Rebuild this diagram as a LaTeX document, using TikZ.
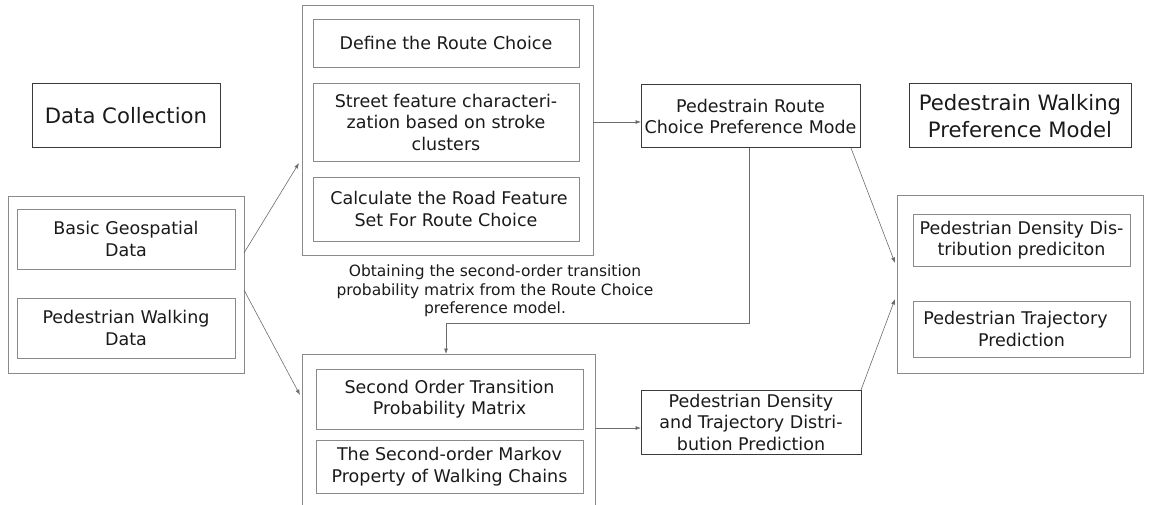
\documentclass[tikz,border=0pt]{standalone}
\usepackage{fontspec}
\setmainfont{DejaVu Sans}
\usetikzlibrary{arrows.meta,calc}
\definecolor{boxgray}{HTML}{8A8A8A}
\definecolor{darkline}{HTML}{3A3A3A}
\definecolor{txt}{HTML}{1A1A1A}
\begin{document}
\begin{tikzpicture}[x=1pt,y=-1pt,
  base/.style={inner sep=0pt, outer sep=0pt, align=center, text=txt},
  graybox/.style={base, draw=boxgray, line width=0.9pt, font=\fontsize{17.5}{21.5}\selectfont},
  darkbox/.style={base, draw=darkline, line width=1pt, font=\fontsize{17.5}{21.5}\selectfont},
  bigbox/.style={base, draw=darkline, line width=1pt, font=\fontsize{21.2}{27}\selectfont},
  outerbox/.style={base, draw=boxgray, line width=0.9pt},
  arr/.style={draw=gray!85!black, line width=0.6pt, -{Latex[length=5.5pt,width=4pt]}},
  sz/.style 2 args={minimum width=#1pt, minimum height=#2pt}
]
\useasboundingbox (0,0) rectangle (1152,505);
\clip (0,0) rectangle (1152,505);

% left column
\node[bigbox, sz={188}{64}] (dc) at (126,116) {Data Collection};
\node[outerbox, sz={236}{177}] (lo) at (126,284.5) {};
\node[graybox, sz={218}{60}] (geo) at (126,239) {Basic Geospatial\\Data};
\node[graybox, sz={218}{60}] (walk) at (126,328) {Pedestrian Walking\\Data};

% top middle
\node[outerbox, sz={291}{250}] (tm) at (447.5,130) {};
\node[graybox, sz={266}{48}] (def) at (446,43) {Define the Route Choice};
\node[graybox, sz={266}{78}] (street) at (446,122) {Street feature characteri-\\zation based on stroke\\clusters};
\node[graybox, sz={266}{64}] (calcf) at (446,209) {\hspace*{6pt}Calculate the Road Feature\\Set For Route Choice};

% label
\node[base, font=\fontsize{15.5}{18.5}\selectfont] (lab) at (495,291) {Obtaining the second-order transition\\probability matrix from the Route Choice\\preference model.};

% bottom middle
\node[outerbox, sz={293}{170}] (bm) at (448.5,439) {};
\node[graybox, sz={267}{60}] (sec) at (449.5,399) {Second Order Transition\\Probability Matrix};
\node[graybox, sz={267}{53}] (markov) at (449.5,466.5) {The Second-order Markov\\Property of Walking Chains};

% route choice and density boxes
\node[darkbox, sz={219}{63}] (rc) at (750.5,116.5) {Pedestrain Route\\Choice Preference Mode};
\node[darkbox, sz={220}{64}] (pdt) at (751,422) {Pedestrian Density\\and Trajectory Distri-\\bution Prediction};

% right column
\node[bigbox, sz={222}{64}] (pwpm) at (1020,116) {Pedestrain Walking\\Preference Model};
\node[outerbox, sz={246}{178}] (ro) at (1020,284) {};
\node[graybox, sz={217}{52}] (dens) at (1021.5,240) {Pedestrian Density Dis-\\tribution prediciton};
\node[graybox, sz={217}{56}] (traj) at (1021.5,329) {Pedestrian Trajectory\hspace*{12pt}\\Prediction};

% connectors
\draw[arr] ($(lo.east)+(0,-31.5)$) -- ($(tm.west)+(-3,33)$);
\draw[arr] ($(lo.east)+(0,5.5)$) -- ($(bm.west)+(-2,-44)$);
\draw[arr] ($(tm.east)+(0,-8)$) -- ($(rc.west)+(0,5.5)$);
\coordinate (turn) at (446,323);
\draw[arr] ($(rc.south)+(-1.5,0)$) |- (turn) -- (turn |- bm.north);
\draw[arr] ($(rc.south east)+(-9,0)$) -- ($(ro.west)+(-2,-21)$);
\draw[arr] (pdt.north east) -- ($(ro.west)+(-2,15)$);
\draw[arr] ($(bm.east)+(0,-11)$) -- ($(pdt.west)+(0,6)$);
\end{tikzpicture}
\end{document}
